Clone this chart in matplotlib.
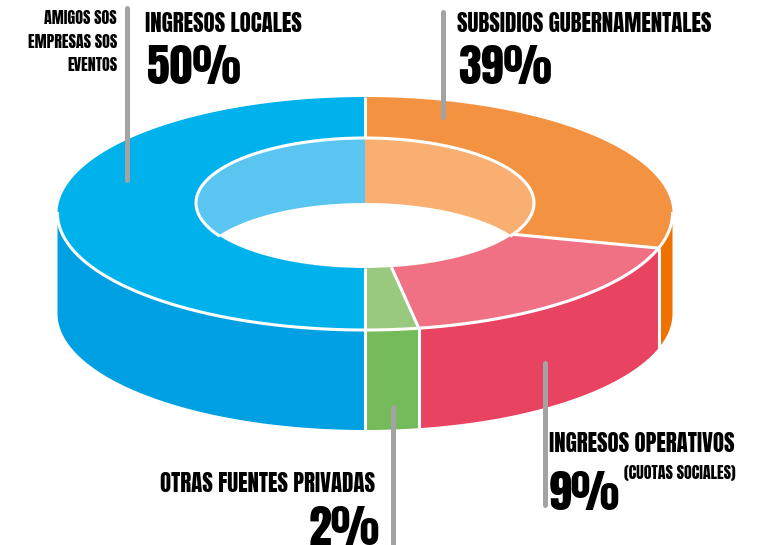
import numpy as np
import matplotlib
matplotlib.use("Agg")
import matplotlib.pyplot as plt

# slices go clockwise from 12 o'clock
names = ["SUBSIDIOS GUBERNAMENTALES", "INGRESOS OPERATIVOS", "OTRAS FUENTES PRIVADAS", "INGRESOS LOCALES"]
percents = [39, 9, 2, 50]
# the drawing is not to scale, these are the shares as they were drawn
outer_shares = [29.8, 17.4, 2.8, 50.0]
inner_shares = [33.0, 14.5, 2.5, 50.0]

top_colors = ["#F39240", "#F07184", "#99C87F", "#00B2EC"]
side_colors = ["#EF7100", "#E94362", "#75BA5B", "#00A0E3"]
wall_colors = ["#F9AF72", "#5BC5F2"]

FONT = ["Anton", "Liberation Sans", "DejaVu Sans"]
GREY = "#A3A3A3"

cx = 365
cy_top = 213.5
rx_out, ry_out = 307.5, 116.5
cy_in = 203
rx_in, ry_in = 169, 65
depth = 100
hole_shift = 65


def arc(a0, a1, rx, ry, cy):
    t = np.radians(np.linspace(a0, a1, 120))
    return cx + rx * np.sin(t), cy - ry * np.cos(t)


fig = plt.figure(figsize=(7.75, 5.45), dpi=100)
ax = fig.add_axes([0, 0, 1, 1])
ax.set_xlim(0, 775)
ax.set_ylim(545, 0)
ax.axis("off")

out_edges = np.concatenate([[0], np.cumsum(outer_shares)]) * 3.6
in_edges = np.concatenate([[0], np.cumsum(inner_shares)]) * 3.6

# inner wall seen through the hole
x, y = arc(0, 180, rx_in, ry_in, cy_in)
ax.fill(x, y, color=wall_colors[0], lw=0, zorder=1)
x, y = arc(180, 360, rx_in, ry_in, cy_in)
ax.fill(x, y, color=wall_colors[1], lw=0, zorder=1)

# hole, where the shifted rim and the bottom of the rim overlap
c = np.degrees(np.arccos((hole_shift / 2) / ry_in))
x1, y1 = arc(-c, c, rx_in, ry_in, cy_in + hole_shift)
x2, y2 = arc(180 - c, 180 + c, rx_in, ry_in, cy_in)
ax.fill(np.r_[x1, x2], np.r_[y1, y2], color="white", lw=0, zorder=2)

# outer wall, only the front half shows
for i in range(4):
    a0 = max(out_edges[i], 90)
    a1 = min(out_edges[i + 1], 270)
    x, y = arc(a0, a1, rx_out, ry_out, cy_top)
    ax.fill(np.r_[x, x[::-1]], np.r_[y, y[::-1] + depth], color=side_colors[i], lw=0, zorder=3)

# top face
for i in range(4):
    xo, yo = arc(out_edges[i], out_edges[i + 1], rx_out, ry_out, cy_top)
    xi, yi = arc(in_edges[i], in_edges[i + 1], rx_in, ry_in, cy_in)
    ax.fill(np.r_[xo, xi[::-1]], np.r_[yo, yi[::-1]], color=top_colors[i], lw=0, zorder=4)

# white rims and dividers
x, y = arc(c - 360 + 180 + 180 - 180 + 180 - c - c + c, 0, rx_in, ry_in, cy_in)
x, y = arc(180 + c, 540 - c, rx_in, ry_in, cy_in)
ax.plot(x, y, color="white", lw=2.2, zorder=5)
x, y = arc(90, 270, rx_out, ry_out, cy_top)
ax.plot(x, y, color="white", lw=2.2, zorder=5)
for i in range(4):
    xo, yo = arc(out_edges[i], out_edges[i], rx_out, ry_out, cy_top)
    xi, yi = arc(in_edges[i], in_edges[i], rx_in, ry_in, cy_in)
    ax.plot([xo[0], xi[0]], [yo[0], yi[0]], color="white", lw=2.2, zorder=5, solid_capstyle="butt")
    if 90 <= out_edges[i] <= 270:
        ax.plot([xo[0], xo[0]], [yo[0], yo[0] + depth], color="white", lw=2.2, zorder=5, solid_capstyle="butt")
ax.plot([cx, cx], [cy_top + ry_out, cy_top + ry_out + depth], color="white", lw=2.2, zorder=5, solid_capstyle="butt")

# leader lines
for lx, ly0, ly1 in [(127, 8, 180), (443, 12, 117), (545, 363, 505), (393, 407, 560)]:
    ax.plot([lx, lx], [ly0, ly1], color=GREY, lw=3.6, solid_capstyle="round", zorder=6)


def label(x, y, s, size, ha="left"):
    ax.text(x, y, s, fontsize=size, family=FONT, ha=ha, va="baseline", color="black", zorder=7)


label(457, 32, names[0], 16.5)
label(458, 84, "%d%%" % percents[0], 33)
label(549, 452, names[1], 16.5)
label(549, 510, "%d%%" % percents[1], 33)
label(624, 479, "(CUOTAS SOCIALES)", 11.5)
label(375, 492, names[2], 16.5, ha="right")
label(380, 545, "%d%%" % percents[2], 33, ha="right")
label(145, 32, names[3], 16.5)
label(147, 84, "%d%%" % percents[3], 33)

label(117, 24, "AMIGOS SOS", 11.5, ha="right")
label(117, 48, "EMPRESAS SOS", 11.5, ha="right")
label(117, 71, "EVENTOS", 11.5, ha="right")

fig.savefig("out.png", dpi=100)
